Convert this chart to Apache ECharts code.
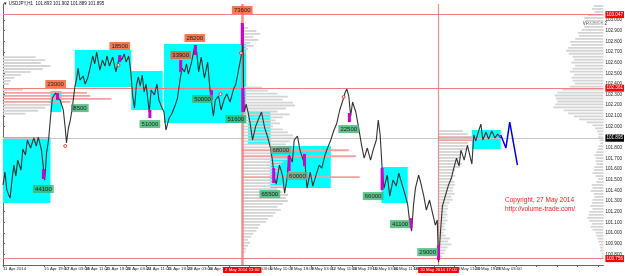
<!DOCTYPE html>
<html><head><meta charset="utf-8">
<script src="https://cdn.jsdelivr.net/npm/echarts@6/dist/echarts.min.js"></script>
<style>html,body{margin:0;padding:0;background:#fff}#c{width:625px;height:276px}</style>
</head><body><div id="c"></div>
<script>
// ---------- axis labels ----------
const xLabels = ["11 Apr 2014","14 Apr 11:00","15 Apr 19:00","17 Apr 03:00","18 Apr 11:00","21 Apr 19:00","23 Apr 03:00","24 Apr 11:00","25 Apr 19:00","29 Apr 03:00","30 Apr 11:00","1 May 19:00","5 May 03:00","6 May 11:00","7 May 19:00","9 May 03:00","12 May 11:00","13 May 19:00","15 May 03:00","16 May 11:00","19 May 19:00","21 May 03:00","22 May 11:00","23 May 19:00","27 May 03:00"];
const yTicks = [100.8,100.9,101.0,101.1,101.2,101.3,101.4,101.5,101.6,101.7,101.8,101.9,102.0,102.1,102.2,102.3,102.4,102.5,102.6,102.7,102.8,102.9,103.0];
const cursorHours = [373, 679];
const cursorLabels = ["2 May 2014 13:00", "20 May 2014 17:00"];
const levelPrices = [103.047, 102.361, 100.756];
const lastPrice = 101.895;

// ---------- price path (hour index, price) ----------
const priceHours = [0,3,6,11,14,17,20,23,28,31,35,38,43,48,52,55,60,63,65,68,71,74,77,82,85,89,94,97,99,102,105,108,112,115,117,120,125,128,132,135,140,143,146,151,155,159,162,166,171,176,179,182,185,189,192,196,199,202,205,208,211,214,217,220,223,228,231,236,240,243,248,251,254,259,263,268,272,276,279,283,286,289,294,299,302,305,309,314,319,323,328,331,336,340,345,349,354,359,363,366,369,373,374,375,376,379,382,385,389,394,399,403,408,413,417,420,423,426,431,436,439,443,446,451,454,459,463,468,471,474,479,483,488,493,497,502,506,511,516,520,525,530,533,536,539,542,545,550,554,559,563,568,573,577,582,585,588,591,594,599,603,608,613,617,622,627,631,634,637,640,643,648,651,656,660,665,670,674,677,679,682,685,690,694,699,702,707,711,714,719,724,728,731,734,737,742,745,748,753,757,762,767,771,776];
const priceValues = [101.450,101.572,101.403,101.328,101.497,101.638,101.535,101.685,101.591,101.788,101.732,101.873,101.798,101.892,101.817,101.901,101.779,101.610,101.497,101.760,101.873,102.080,102.267,102.314,102.277,102.249,102.155,101.986,101.845,101.986,102.061,102.173,102.371,102.455,102.549,102.436,102.474,102.399,102.455,102.530,102.662,102.587,102.699,102.530,102.624,102.568,102.662,102.568,102.652,102.512,102.587,102.662,102.624,102.681,102.605,102.662,102.530,102.296,102.173,102.389,102.465,102.380,102.483,102.324,102.399,102.136,102.342,102.296,102.399,102.249,102.173,102.136,101.967,102.080,102.117,102.192,102.267,102.436,102.549,102.512,102.587,102.493,102.605,102.756,102.699,102.512,102.652,102.455,102.605,102.324,102.098,102.249,102.286,102.155,102.258,102.305,102.230,102.342,102.399,102.493,102.587,102.718,102.962,102.342,102.136,102.211,102.136,102.042,101.873,102.004,102.080,102.136,101.986,101.892,101.798,101.685,101.516,101.460,101.638,101.535,101.375,101.516,101.732,101.666,101.873,101.911,101.779,101.685,101.638,101.422,101.572,101.441,101.544,101.638,101.610,101.732,101.798,101.873,101.967,102.023,102.155,102.249,102.314,102.352,102.286,102.098,102.230,102.136,102.004,101.826,101.704,101.798,101.685,101.779,101.873,102.061,101.920,101.610,101.422,101.544,101.347,101.497,101.441,101.563,101.460,101.357,101.263,101.103,101.019,101.263,101.422,101.544,101.479,101.347,101.216,101.310,101.178,101.075,101.122,100.727,101.009,101.253,101.357,101.441,101.516,101.591,101.704,101.629,101.779,101.685,101.826,101.723,101.648,101.920,101.864,101.967,102.023,101.873,101.948,101.882,101.958,101.892,101.929,101.892];

// ---------- projection ----------
const projHours = [776, 784, 790, 802];
const projValues = [101.920, 101.798, 102.042, 101.638];

// ---------- cyan zones ----------
const boxStart = [0, 74, 112, 200, 251, 382, 417, 590, 731];
const boxEnd   = [74, 91, 200, 249, 379, 417, 511, 631, 776];
const boxHigh  = [101.901, 102.333, 102.718, 102.521, 102.774, 102.136, 101.817, 101.619, 101.967];
const boxLow   = [101.281, 102.136, 102.371, 102.155, 102.033, 101.826, 101.422, 101.281, 101.788];

// ---------- magenta volume spikes ----------
const spikeHours = [63, 85, 109, 182, 229, 277, 300, 325, 373, 374, 422, 446, 470, 540, 591, 636, 679];
const spikeHigh  = [101.600, 102.314, 102.202, 102.671, 102.155, 102.624, 102.765, 102.342, 102.972, 102.361, 101.610, 101.723, 101.742, 102.127, 101.610, 101.140, 100.887];
const spikeLow   = [101.507, 102.249, 102.155, 102.605, 102.080, 102.511, 102.671, 102.249, 102.765, 102.136, 101.469, 101.582, 101.629, 102.042, 101.403, 101.047, 100.746];

// ---------- volume labels ----------
const volText  = ["44100","23000","8500","18500","51000","33900","28200","50000","73600","51600","68000","60000","65500","22500","66000","41100","29000"];
const volHours = [63, 82, 120, 182, 229, 277, 299, 311, 373, 363, 433, 459, 416, 539, 577, 619, 662];
const volPrice = [101.413, 102.399, 102.173, 102.756, 102.023, 102.671, 102.831, 102.258, 103.094, 102.070, 101.779, 101.535, 101.366, 101.976, 101.347, 101.084, 100.821];
const volKind  = ["b","s","b","s","b","s","s","b","s","b","n","n","b","b","b","b","b"];

// ---------- small markers ----------
const dotHours = [97, 180, 339, 371, 531];
const dotPrice = [101.817, 102.577, 102.305, 102.690, 102.277];

// ---------- volume profiles (lengths in hours, bins of profileStep) ----------
const profileStep = 0.028;
const profA = {anchor: 0, dir: 1, top: 102.652, red: [12,13,14,15],
  len: [51,66,59,74,62,43,28,18,12,9,0,31,131,136,169,105,74,66,55,35]};
const profB = {anchor: 373, dir: 1, top: 102.925, red: [41,43,50],
  len: [9,22,28,17,25,12,18,9,5,0,0,0,0,0,0,0,0,0,0,0,
        31,40,55,71,63,79,82,68,55,74,63,52,59,48,63,71,79,82,74,68,
        55,166,46,177,71,63,60,55,60,51,183,48,55,66,55,63,71,68,71,63,
        55,60,52,48,40,37,28,25,22,17,14,9,12,9,6,5]};
const profC = {anchor: 679, dir: 1, top: 101.957, red: [2,3],
  len: [38,45,52,52,46,42,45,37,34,35,31,37,34,26,23,26,22,25,26,23,22,25,20,22,17,14,15,12,14,11,14,11,9,11,8,11,18,15,20,14,11,9,6]};
const profR = {anchor: 936, dir: -1, top: 103.131, red: [],
  len: [15,18,14,24,30,28,24,30,34,40,38,44,52,50,55,58,54,48,46,50,44,48,52,46,50,48,45,52,64,72,76,74,72,75,78,62,55,46,38,26,17,13,10,8,8,6,5,8,9,11,14,12,12,11,14,15,17,12,8,11,18,17,20,15,14,17,18,20,17,22,23,25,22,18,20,17,12,11,9,8,6,5,5,3,3]};

// ---------- build ----------
const FONT = 'Liberation Sans';
const NARROW = '"Liberation Sans Narrow", "Liberation Sans", sans-serif';
const priceData = priceHours.map((h, i) => [h, priceValues[i]]);
const projData = projHours.map((h, i) => [h, projValues[i]]);
const boxData = boxStart.map((s, i) => [s, boxEnd[i], boxHigh[i], boxLow[i]]);
const spikeData = spikeHours.map((h, i) => [h, spikeHigh[i], spikeLow[i]]);
const profData = [];
[profA, profB, profC, profR].forEach(p => {
  p.len.forEach((l, i) => {
    if (l > 0) profData.push([p.anchor, +(p.top - i * profileStep).toFixed(3), l * p.dir, p.red.includes(i) ? 1 : 0]);
  });
});
const kindColor = {s: '#f25a28', b: '#3cb371', n: '#8f9e7e'};
const volData = volText.map((t, i) => ({
  value: [volHours[i], volPrice[i]],
  label: {formatter: t, backgroundColor: kindColor[volKind[i]]}
}));
const dotData = dotHours.map((h, i) => [h, dotPrice[i]]);

const chart = echarts.init(document.getElementById('c'), null, {renderer: 'canvas'});
chart.setOption({
  animation: false,
  backgroundColor: '#ffffff',
  textStyle: {fontFamily: FONT},
  grid: {left: 2, right: 15, top: 4, bottom: 11, show: false},
  xAxis: {
    type: 'value', min: 0, max: 936, interval: 32,
    axisLine: {show: true, lineStyle: {color: '#666', width: 1}},
    axisTick: {show: true, length: 2, lineStyle: {color: '#666'}},
    splitLine: {show: false},
    axisLabel: {
      fontSize: 4.3, color: '#222', align: 'left', margin: 2, showMaxLabel: false, showMinLabel: true,
      hideOverlap: false, interval: 0, fontFamily: NARROW,
      formatter: v => xLabels[Math.round(v / 32)] || ''
    }
  },
  yAxis: {
    type: 'value', position: 'right', min: 100.70, max: 103.15, scale: true,
    axisLine: {show: true, lineStyle: {color: '#666', width: 1}},
    axisTick: {show: true, length: 2, customValues: yTicks, lineStyle: {color: '#666'}},
    splitLine: {show: false},
    axisLabel: {fontSize: 4.6, color: '#222', margin: 2, customValues: yTicks, fontFamily: NARROW,
      formatter: v => v.toFixed(3)}
  },
  graphic: [
    {type: 'text', left: 3, top: 1, style: {text: '\u25BC USDJPY,H1  101.893 101.902 101.889 101.895', fontSize: 4.5, fill: '#111', fontFamily: FONT}},
    {type: 'text', right: 18, top: 21, style: {text: 'VP CNT = 2', fontSize: 4.5, fill: '#333', fontFamily: FONT}},
    {type: 'text', left: 505, top: 197, style: {text: 'Copyright, 27 May 2014', fontSize: 6.5, fill: '#ff1a1a', fontFamily: FONT}},
    {type: 'text', left: 505, top: 206, style: {text: 'http://volume-trade.com/', fontSize: 6.5, fill: '#ff1a1a', fontFamily: FONT}}
  ],
  series: [
    {
      name: 'zones', type: 'custom', z: 1, silent: true,
      data: boxData,
      renderItem: (params, api) => {
        const a = api.coord([api.value(0), api.value(2)]);
        const b = api.coord([api.value(1), api.value(3)]);
        return {type: 'rect', shape: {x: a[0], y: a[1], width: b[0] - a[0], height: b[1] - a[1]}, style: {fill: '#00ffff'}};
      },
      markLine: {
        silent: true, symbol: 'none', animation: false,
        data: [
          ...levelPrices.map(v => ({yAxis: v, lineStyle: {color: '#f08080', width: 1, type: 'solid'},
            label: {show: true, position: 'end', distance: 2, formatter: v.toFixed(3), fontSize: 4.6, fontFamily: NARROW, color: '#fff', backgroundColor: '#ff0000', padding: [1, 1]}})),
          {yAxis: lastPrice, lineStyle: {color: '#c8c8c8', width: 1, type: 'solid'},
            label: {show: true, position: 'end', distance: 2, formatter: lastPrice.toFixed(3), fontSize: 4.6, fontFamily: NARROW, color: '#fff', backgroundColor: '#000', padding: [1, 1]}},
          ...cursorHours.map((h, i) => ({xAxis: h, lineStyle: {color: 'rgba(240,110,110,0.75)', width: i === 0 ? 2.5 : 1.2, type: 'solid'},
            label: {show: true, position: 'start', distance: 2, formatter: cursorLabels[i], fontSize: 4.3, fontFamily: NARROW, color: '#fff', backgroundColor: '#ff0000', padding: [1, 2]}}))
        ]
      }
    },
    {
      name: 'profiles', type: 'custom', z: 2, silent: true,
      data: profData,
      renderItem: (params, api) => {
        const a = api.coord([api.value(0), api.value(1)]);
        const b = api.coord([api.value(0) + api.value(2), api.value(1)]);
        return {type: 'rect', shape: {x: Math.min(a[0], b[0]), y: a[1] - 0.9, width: Math.abs(b[0] - a[0]), height: 1.8},
          style: {fill: api.value(3) ? '#f4a0a0' : '#d4d4d4'}};
      }
    },
    {
      name: 'price', type: 'line', z: 5, data: priceData, showSymbol: false, silent: true,
      lineStyle: {color: '#333333', width: 1.1}
    },
    {
      name: 'projection', type: 'line', z: 5, data: projData, showSymbol: false, silent: true,
      lineStyle: {color: '#0000ee', width: 1.5}
    },
    {
      name: 'spikes', type: 'custom', z: 6, silent: true,
      data: spikeData,
      renderItem: (params, api) => {
        const a = api.coord([api.value(0), api.value(1)]);
        const b = api.coord([api.value(0), api.value(2)]);
        return {type: 'rect', shape: {x: a[0] - 1.5, y: a[1], width: 3, height: b[1] - a[1]}, style: {fill: '#d000d0'}};
      }
    },
    {
      name: 'dots', type: 'scatter', z: 6, silent: true, data: dotData,
      symbol: 'circle', symbolSize: 3, itemStyle: {color: '#ffffff', borderColor: '#e02020', borderWidth: 1}
    },
    {
      name: 'volumes', type: 'scatter', z: 7, silent: true, data: volData,
      symbolSize: 1, itemStyle: {color: 'rgba(0,0,0,0)'},
      label: {show: true, position: 'inside', fontSize: 6, color: '#000', padding: [1, 2], fontFamily: FONT}
    }
  ]
});
</script>
</body></html>
